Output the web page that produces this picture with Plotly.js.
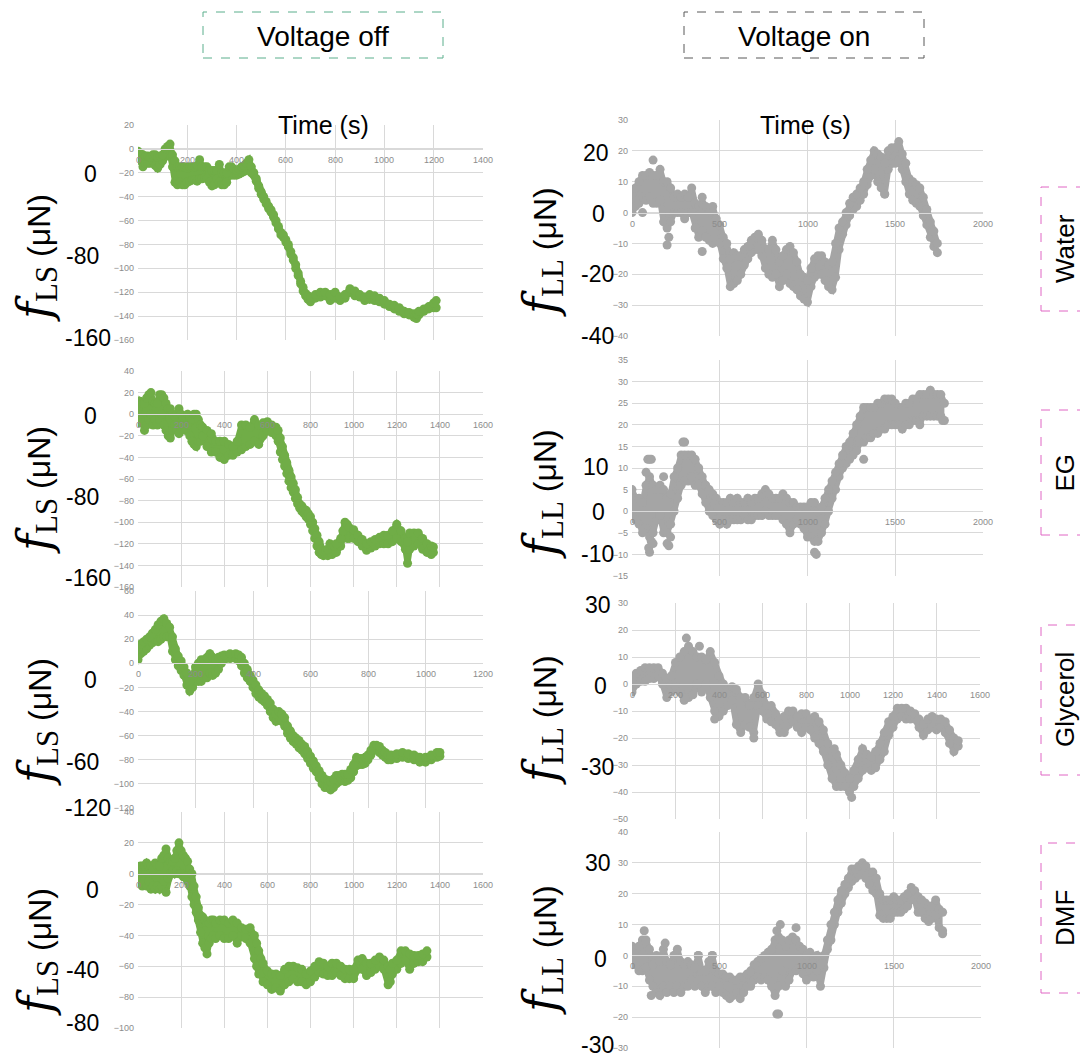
<!DOCTYPE html>
<html>
<head>
<meta charset="utf-8">
<script src="https://cdn.plot.ly/plotly-3.0.1.min.js"></script>
<style>html,body{margin:0;padding:0;background:#fff;}#chart{width:1080px;height:1057px;}</style>
</head>
<body>
<div id="chart"></div>
<script>
// ---------- DATA ----------
const columnLabels = ["Voltage off", "Voltage on"];
const rowLabels = ["Water", "EG", "Glycerol", "DMF"];
const xTitle = "Time (s)";

// Panel 1: Water, voltage off  (time, lower and upper edge of point cloud)
const t1 = [0,10,20,30,40,50,60,70,80,90,100,110,120,130,140,150,160,170,180,190,200,210,220,230,240,250,260,270,280,290,300,310,320,330,340,350,360,370,380,390,400,410,420,430,440,450,460,470,480,490,500,510,520,530,540,550,560,570,580,590,600,610,620,630,640,650,660,670,680,690,700,720,740,760,780,800,820,840,860,880,900,920,940,960,980,1000,1020,1040,1060,1080,1100,1120,1130,1140,1160,1180,1200,1210];
const lo1 = [-6,-10,-15,-12,-12,-12,-10,-14,-16,-13,-10,-6,-6,-5,-15,-28,-30,-28,-30,-30,-28,-27,-26,-26,-27,-25,-25,-24,-25,-28,-31,-30,-25,-28,-30,-30,-28,-22,-22,-22,-22,-21,-20,-19,-18,-15,-20,-22,-27,-33,-38,-42,-46,-50,-53,-57,-62,-67,-72,-74,-78,-82,-88,-93,-100,-106,-113,-119,-123,-126,-128,-125,-124,-123,-127,-125,-127,-125,-120,-123,-124,-127,-126,-127,-128,-130,-132,-134,-136,-138,-139,-141,-142,-139,-136,-134,-133,-133];
const hi1 = [-2,-4,-5,-6,-6,-7,-5,-5,-7,-6,-5,0,2,4,-5,-10,-15,-15,-15,-15,-16,-15,-15,-15,-14,-9,-15,-15,-15,-18,-18,-18,-18,-13,-20,-20,-20,-15,-15,-17,-18,-17,-15,-14,-12,-9,-15,-20,-25,-31,-36,-40,-44,-48,-51,-55,-60,-65,-70,-72,-76,-80,-86,-91,-97,-104,-111,-116,-121,-123,-124,-122,-120,-120,-122,-120,-124,-122,-117,-119,-122,-124,-122,-123,-125,-127,-130,-131,-133,-136,-137,-138,-138,-136,-134,-132,-129,-127];
const ot1 = [];
const ov1 = [];

// Panel 2: EG, voltage off
const t2 = [0,10,20,30,40,50,60,70,80,90,100,110,120,130,140,150,160,170,180,190,200,210,220,230,240,250,260,270,280,290,300,320,340,360,380,400,420,440,460,480,500,520,540,560,580,600,620,640,650,660,670,680,690,700,710,720,730,740,750,760,770,780,790,800,810,820,830,840,850,860,870,880,890,900,910,920,940,950,960,970,980,1000,1020,1040,1060,1080,1100,1120,1140,1160,1180,1200,1220,1240,1250,1260,1280,1300,1320,1340,1360,1370];
const lo2 = [-8,-5,-8,-15,-10,-5,0,-10,-5,-10,-5,0,-10,-15,-20,-22,-15,-10,-15,-18,-12,-10,-15,-10,-20,-25,-28,-30,-25,-25,-20,-30,-35,-35,-40,-42,-38,-38,-35,-33,-30,-28,-25,-28,-20,-15,-17,-20,-25,-35,-42,-48,-55,-62,-68,-72,-78,-83,-87,-90,-92,-95,-97,-102,-108,-115,-122,-128,-130,-131,-130,-131,-128,-130,-128,-128,-122,-115,-110,-115,-115,-115,-118,-122,-126,-124,-122,-120,-120,-120,-118,-115,-118,-125,-138,-125,-122,-120,-125,-128,-130,-128];
const hi2 = [5,12,10,10,15,18,20,12,10,10,18,18,15,10,5,5,0,-2,0,5,0,-3,-2,0,-3,-5,0,0,-5,-10,-12,-15,-18,-25,-25,-25,-28,-30,-25,-10,-10,-12,-5,-10,-8,-7,-10,-12,-15,-22,-30,-38,-45,-52,-58,-64,-70,-77,-83,-85,-88,-89,-92,-95,-100,-106,-112,-118,-125,-127,-126,-125,-120,-122,-122,-120,-115,-108,-100,-102,-105,-107,-112,-116,-120,-118,-116,-114,-112,-112,-108,-102,-108,-115,-118,-110,-110,-110,-115,-120,-122,-123];
const ot2 = [];
const ov2 = [];

// Panel 3: Glycerol, voltage off
const t3 = [0,10,20,30,40,50,60,70,80,90,100,110,120,130,140,150,160,170,180,190,200,210,220,230,240,250,260,270,280,290,300,320,340,350,360,370,380,390,400,410,420,430,440,450,460,470,480,490,500,510,520,530,540,550,560,570,580,590,600,610,620,630,640,650,660,670,680,690,700,710,720,730,740,750,760,770,780,790,800,810,820,830,840,850,860,870,880,900,920,940,960,980,1000,1020,1040,1050];
const lo3 = [3,8,10,12,15,17,20,18,20,22,22,22,10,3,-2,-6,-10,-18,-23,-20,-15,-15,-15,-12,-12,-8,-10,-8,-5,0,3,4,4,2,-2,-8,-12,-15,-20,-25,-28,-30,-32,-35,-40,-45,-48,-45,-48,-52,-58,-62,-65,-67,-70,-72,-75,-79,-83,-87,-90,-95,-100,-103,-103,-105,-103,-100,-98,-97,-98,-97,-95,-90,-85,-84,-84,-83,-80,-76,-72,-72,-74,-76,-78,-80,-80,-79,-78,-79,-80,-82,-82,-80,-78,-77];
const hi3 = [12,16,18,20,22,25,28,32,35,37,33,30,22,12,6,2,-3,-8,-15,-10,-3,0,3,3,5,8,5,3,5,6,7,8,8,7,5,0,-5,-10,-14,-18,-22,-25,-27,-30,-33,-38,-42,-40,-42,-45,-52,-56,-60,-62,-64,-67,-69,-73,-77,-81,-85,-89,-93,-96,-97,-98,-96,-93,-93,-92,-92,-92,-88,-84,-78,-79,-79,-78,-76,-72,-68,-68,-69,-72,-74,-76,-76,-75,-74,-75,-76,-78,-78,-76,-74,-74];
const ot3 = [];
const ov3 = [];

// Panel 4: DMF, voltage off
const t4 = [0,10,20,30,40,50,60,70,80,90,100,110,120,130,140,150,160,170,180,190,200,210,220,230,240,250,260,270,280,290,300,310,320,330,340,350,360,380,400,420,440,460,480,500,520,540,550,560,570,580,600,620,640,660,680,700,720,740,760,780,800,820,840,860,880,900,920,940,960,980,1000,1020,1040,1060,1080,1100,1120,1140,1160,1170,1180,1200,1220,1240,1260,1280,1300,1320,1340];
const lo4 = [-5,-5,-8,-5,-8,-5,-10,-8,-10,-8,-10,-8,-5,-12,-3,0,2,0,2,0,0,-2,-2,-5,-8,-15,-20,-25,-30,-38,-45,-48,-52,-45,-42,-40,-42,-40,-42,-42,-40,-45,-40,-42,-45,-55,-60,-65,-65,-70,-72,-75,-74,-76,-72,-70,-68,-70,-70,-72,-70,-67,-64,-65,-66,-66,-64,-66,-68,-68,-68,-62,-62,-66,-64,-62,-60,-62,-72,-70,-65,-62,-58,-56,-62,-58,-57,-57,-54];
const hi4 = [3,5,5,5,7,5,5,3,7,5,5,10,12,16,10,8,8,10,15,20,15,12,10,8,3,0,-8,-15,-22,-27,-28,-30,-32,-32,-30,-30,-32,-30,-30,-32,-30,-32,-35,-36,-35,-40,-45,-50,-55,-58,-63,-65,-65,-66,-62,-60,-60,-61,-62,-65,-63,-60,-57,-58,-60,-58,-58,-60,-62,-62,-62,-56,-55,-58,-58,-56,-54,-56,-60,-62,-58,-56,-50,-50,-52,-53,-53,-52,-50];
const ot4 = [];
const ov4 = [];

// Panel 5: Water, voltage on
const t5 = [0,20,40,60,80,100,120,140,160,180,200,220,240,260,280,300,320,340,360,380,400,420,440,460,480,500,520,540,560,580,600,620,640,660,680,700,720,740,760,780,800,820,840,860,880,900,920,940,960,980,1000,1020,1040,1060,1080,1100,1120,1140,1160,1180,1200,1220,1240,1260,1280,1300,1320,1340,1360,1380,1400,1420,1440,1460,1480,1500,1520,1540,1560,1580,1600,1620,1640,1660,1680,1700,1720,1740];
const lo5 = [0,2,3,5,4,5,3,3,4,-3,-5,-3,0,0,0,-2,0,0,-5,-8,-6,-8,-9,-10,-9,-10,-15,-18,-24,-23,-22,-20,-17,-15,-13,-12,-12,-14,-18,-20,-21,-20,-24,-22,-20,-23,-24,-25,-27,-28,-29,-24,-21,-20,-20,-22,-24,-25,-21,-12,-7,-4,-1,1,2,4,6,9,12,14,10,8,6,14,16,16,17,14,10,6,4,3,2,-1,-4,-8,-11,-13];
const hi5 = [6,8,10,12,12,13,12,12,14,10,10,8,5,6,5,6,5,8,3,2,3,2,0,2,-2,-4,-8,-10,-15,-13,-14,-14,-12,-11,-9,-8,-7,-9,-12,-12,-9,-12,-16,-14,-12,-11,-13,-16,-20,-21,-22,-18,-15,-14,-14,-16,-17,-16,-10,-5,-3,0,3,5,6,8,10,14,17,20,19,18,16,20,21,21,23,19,16,11,10,9,8,5,1,-3,-6,-10];
const ot5 = [60,120,200,210,400,400,1440];
const ov5 = [0,17,-10.5,-8,-12.6,5,6];

// Panel 6: EG, voltage on
const t6 = [0,20,40,60,80,100,120,140,160,180,200,220,240,260,280,300,320,340,360,380,400,420,440,460,480,500,520,540,560,580,600,620,640,660,680,700,720,740,760,780,800,820,840,860,880,900,920,940,960,980,1000,1020,1040,1060,1080,1100,1120,1140,1160,1180,1200,1220,1240,1260,1280,1300,1320,1340,1360,1380,1400,1420,1440,1460,1480,1500,1520,1540,1560,1580,1600,1620,1640,1660,1680,1700,1720,1740,1760,1780];
const lo6 = [-1,-2,-3,-4,-4,-6,-5,-2,-1,-5,-5,-3,0,3,6,7,7,8,6,6,4,2,0,-1,-2,-3,-2,-3,-2,-2,-2,-2,-1,-2,-2,-1,-1,-1,0,-1,-1,-1,-1,-2,-3,-5,-3,-2,-3,-4,-6,-6,-7,-7,-5,-3,0,3,5,8,10,11,12,13,14,16,16,17,17,18,18,19,19,20,20,20,20,19,20,20,21,21,21,22,22,22,22,22,22,21];
const hi6 = [5,3,3,2,6,8,6,5,6,5,3,4,8,10,13,13,13,13,12,10,8,6,5,4,3,2,2,2,3,2,3,2,2,3,2,3,3,4,5,4,3,3,3,4,3,2,2,1,1,1,1,2,2,0,1,3,5,7,9,11,13,15,16,18,20,22,24,24,24,24,25,25,26,26,26,25,24,24,25,25,26,26,27,27,27,28,27,27,27,25];
const ot6 = [80,90,100,110,95,100,110,120,60,180,200,210,220,290,300,1040,1050,1320,1640,1770];
const ov6 = [9,12,12,12,-8.5,-9.5,-7,-7.5,-5,8,-7.5,-8,-6,16,16,-9.5,-10,12,20,21];

// Panel 7: Glycerol, voltage on
const t7 = [0,20,40,60,80,100,120,140,160,180,200,220,240,260,280,300,320,340,360,380,400,420,440,460,480,500,520,540,560,580,600,620,640,660,680,700,720,740,760,780,800,820,840,860,880,900,920,940,960,980,1000,1020,1040,1060,1080,1100,1120,1140,1160,1180,1200,1220,1240,1260,1280,1300,1320,1340,1360,1380,1400,1420,1440,1460,1480,1500];
const lo7 = [-3,0,1,1,2,2,3,0,-5,-3,-1,-3,-6,-5,-4,0,-3,0,-5,-10,-12,-10,-8,-6,-15,-18,-15,-16,-18,-8,-10,-13,-14,-15,-18,-18,-15,-14,-16,-18,-16,-17,-20,-22,-25,-30,-35,-38,-38,-38,-40,-38,-35,-32,-31,-32,-31,-28,-25,-19,-16,-13,-12,-13,-13,-13,-16,-19,-17,-16,-17,-16,-18,-22,-25,-23];
const hi7 = [2,4,5,6,6,6,6,4,2,3,8,10,12,14,12,10,10,9,12,8,3,0,-2,-1,-2,-5,-5,-8,-5,0,-4,-8,-8,-11,-13,-12,-10,-10,-12,-11,-11,-13,-12,-14,-17,-22,-27,-26,-30,-33,-35,-32,-28,-24,-26,-27,-25,-22,-18,-14,-12,-9,-9,-9,-10,-11,-13,-15,-13,-12,-13,-13,-14,-17,-20,-21];
const ot7 = [250,310,380,560,930,1010];
const ov7 = [17,14,-13,-20,-24,-42];

// Panel 8: DMF, voltage on
const t8 = [0,20,40,60,80,100,120,140,160,180,200,220,240,260,280,300,320,340,360,380,400,420,440,460,480,500,520,540,560,580,600,620,640,660,680,700,720,740,760,780,800,820,840,860,880,900,920,940,960,980,1000,1020,1040,1060,1080,1100,1120,1140,1160,1180,1200,1220,1240,1260,1280,1300,1320,1340,1360,1380,1400,1420,1440,1460,1480,1500,1520,1540,1560,1580,1600,1620,1640,1660,1680,1700,1720,1740,1760,1780];
const lo8 = [-3,-3,-5,-5,-4,-8,-10,-12,-13,-10,-12,-10,-12,-10,-12,-10,-10,-8,-10,-8,-10,-12,-10,-10,-12,-10,-12,-13,-14,-13,-12,-14,-12,-10,-10,-8,-7,-8,-7,-8,-10,-13,-10,-5,-10,-8,-5,-5,-4,-6,-8,-5,-7,-5,-10,-4,2,5,10,14,17,20,22,24,25,26,27,25,23,21,20,13,12,12,12,14,14,14,15,16,18,18,14,14,12,11,12,13,9,8];
const hi8 = [3,2,3,5,5,2,-3,0,-2,2,-2,-3,0,2,-2,-3,-2,-3,-4,0,-5,-5,-2,0,-5,-6,-6,-7,-7,-8,-8,-7,-7,-6,-5,-3,-2,-1,0,1,2,5,6,5,3,5,6,5,3,2,0,1,-1,0,-3,0,5,10,14,18,21,23,25,28,28,29,30,29,27,27,25,20,18,18,18,19,18,18,19,20,22,21,19,18,17,16,16,18,15,14];
const ot8 = [70,110,190,380,460,830,840,830,850,940,1780];
const ov8 = [8,-13,4,0,0,-19,-19,8,10,9,7];

// Axis ranges / gridline steps per panel
const xRanges = [[0,1400],[0,1600],[0,1200],[0,1600],[0,2000],[0,2000],[0,1600],[0,2000]];
const xSteps  = [200,200,200,200,500,500,200,500];
const yRanges = [[-160,20],[-160,40],[-120,60],[-100,40],[-40,30],[-15,35],[-50,30],[-30,40]];
const ySteps  = [20,20,20,20,10,5,10,10];

// Large overlaid axis numbers per panel
const bigNums = [["0","-80","-160"],["0","-80","-160"],["0","-60","-120"],["0","-40","-80"],
                 ["20","0","-20","-40"],["10","0","-10"],["30","0","-30"],["30","0","-30"]];

// ---------- LAYOUT / STYLE ----------
const W = 1080, H = 1057;
const px = v => v / W;
const py = v => 1 - v / H;
const GREEN = '#70ad47', GREY = '#a5a5a5';
const series = [
  [t1,lo1,hi1,ot1,ov1],[t2,lo2,hi2,ot2,ov2],[t3,lo3,hi3,ot3,ov3],[t4,lo4,hi4,ot4,ov4],
  [t5,lo5,hi5,ot5,ov5],[t6,lo6,hi6,ot6,ov6],[t7,lo7,hi7,ot7,ov7],[t8,lo8,hi8,ot8,ov8]
];
const boxes = [
  [138,483,125,340],[138,483,371,587],[138,483,591,808],[138,483,812,1028],
  [632,983,120,336],[632,983,360,576],[632,980,603,819],[632,981,832,1048]
];
const bigPos = [
  [[90,174],[82,256],[88,338]],
  [[90,416],[82,497],[88,578]],
  [[90,680],[82,762],[88,808]],
  [[92,890],[82,970],[82,1023]],
  [[596,153],[598,214],[597,274],[597,336]],
  [[596,467],[598,512],[597,554]],
  [[598,605],[600,686],[597,767]],
  [[598,863],[600,959],[597,1045]]
];
const titleY = [258,490,722,952, 252,494,720,950];

const traces = [];
const layout = {
  width: W, height: H,
  margin: {l:0,r:0,t:0,b:0},
  paper_bgcolor: '#ffffff', plot_bgcolor: '#ffffff',
  showlegend: false,
  annotations: [], shapes: []
};
const tickFont = {family: 'Liberation Sans, Arial, sans-serif', size: 9, color: '#8c8c8c'};

series.forEach((s, i) => {
  const [t, lo, hi, ot, ov] = s;
  const n = i + 1;
  const color = i < 4 ? GREEN : GREY;
  const xa = 'x' + (n === 1 ? '' : n), ya = 'y' + (n === 1 ? '' : n);
  const mk = {color: color, size: 9};
  traces.push({x: t, y: lo, xaxis: xa, yaxis: ya, type: 'scatter', mode: 'lines+markers',
               line: {color: color, width: 6}, marker: mk, hoverinfo: 'skip'});
  traces.push({x: t, y: hi, xaxis: xa, yaxis: ya, type: 'scatter', mode: 'lines+markers',
               fill: 'tonexty', fillcolor: color,
               line: {color: color, width: 6}, marker: mk, hoverinfo: 'skip'});
  if (ot.length) {
    traces.push({x: ot, y: ov, xaxis: xa, yaxis: ya, type: 'scatter', mode: 'markers',
                 marker: mk, hoverinfo: 'skip'});
  }
  const [l, r, tp, bt] = boxes[i];
  const yr = yRanges[i];
  const zeroPx = tp + (yr[1] - 0) / (yr[1] - yr[0]) * (bt - tp);
  layout['xaxis' + (n === 1 ? '' : n)] = {
    domain: [px(l), px(r)], range: xRanges[i], dtick: xSteps[i], tick0: 0,
    anchor: 'free', position: py(zeroPx), side: 'bottom',
    showgrid: true, gridcolor: '#d9d9d9', gridwidth: 1, zeroline: false,
    showline: true, linecolor: '#d9d9d9', linewidth: 1,
    ticks: '', showticklabels: false, fixedrange: true
  };
  layout['yaxis' + (n === 1 ? '' : n)] = {
    domain: [py(bt), py(tp)], range: yr, dtick: ySteps[i], tick0: 0,
    anchor: xa, showgrid: true, gridcolor: '#d9d9d9', gridwidth: 1, zeroline: false,
    showline: false, ticks: '', tickfont: tickFont, ticklabelstandoff: 3, fixedrange: true
  };
  // x tick labels drawn on top of the data, placed by the axis scales at y = 0
  for (let v = xRanges[i][0]; v <= xRanges[i][1]; v += xSteps[i]) {
    layout.annotations.push({text: String(v), xref: xa, yref: ya, x: v, y: 0,
      xanchor: 'center', yanchor: 'top', yshift: -4, showarrow: false,
      font: tickFont});
  }
  bigNums[i].forEach((txt, k) => {
    layout.annotations.push({text: txt, xref: 'paper', yref: 'paper',
      x: px(bigPos[i][k][0]), y: py(bigPos[i][k][1]), xanchor: 'center', yanchor: 'middle',
      showarrow: false, font: {family: 'Liberation Sans, Arial, sans-serif', size: 23, color: '#000'}});
  });
  const sub = i < 4 ? 'LS' : 'LL';
  layout.annotations.push({
    text: '<span style="font-family:\'DejaVu Serif\';font-style:italic;font-size:46px">f</span>' +
          '<sub><span style="font-family:\'Liberation Serif\';font-size:31px">' + sub + '</span></sub>' +
          '<span style="font-family:\'Liberation Sans\'"> (μN)</span>',
    xref: 'paper', yref: 'paper', x: px(i < 4 ? 36 : 541), y: py(titleY[i]),
    xanchor: 'center', yanchor: 'middle', textangle: -90, showarrow: false,
    font: {family: 'Liberation Sans, Arial, sans-serif', size: 32, color: '#000'}
  });
});

[[323,125],[805,125]].forEach(p => layout.annotations.push({
  text: xTitle, xref: 'paper', yref: 'paper', x: px(p[0]), y: py(p[1]),
  xanchor: 'center', yanchor: 'middle', showarrow: false,
  font: {family: 'Liberation Sans, Arial, sans-serif', size: 25, color: '#000'}
}));

const colBoxes = [[203,443,12,58,'#5aae8c',323],[684,924,12,58,'#595959',804]];
colBoxes.forEach((b, k) => {
  layout.shapes.push({type: 'rect', xref: 'paper', yref: 'paper',
    x0: px(b[0]), x1: px(b[1]), y0: py(b[3]), y1: py(b[2]),
    line: {color: b[4], width: 1, dash: 'dash'}, fillcolor: 'rgba(0,0,0,0)'});
  layout.annotations.push({text: columnLabels[k], xref: 'paper', yref: 'paper',
    x: px(b[5]), y: py(36), xanchor: 'center', yanchor: 'middle', showarrow: false,
    font: {family: 'Liberation Sans, Arial, sans-serif', size: 28, color: '#000'}});
});

const rowBoxes = [[187,311],[410,535],[625,775],[843,993]];
rowBoxes.forEach((b, k) => {
  layout.shapes.push({type: 'rect', xref: 'paper', yref: 'paper',
    x0: px(1041), x1: px(1100), y0: py(b[1]), y1: py(b[0]),
    line: {color: '#e066c4', width: 1, dash: 'dash'}, fillcolor: 'rgba(0,0,0,0)'});
  layout.annotations.push({text: rowLabels[k], xref: 'paper', yref: 'paper',
    x: px(1065), y: py((b[0] + b[1]) / 2), xanchor: 'center', yanchor: 'middle',
    textangle: -90, showarrow: false,
    font: {family: 'Liberation Sans, Arial, sans-serif', size: 26, color: '#000'}});
});

Plotly.newPlot('chart', traces, layout, {displayModeBar: false, staticPlot: true});
</script>
</body>
</html>
